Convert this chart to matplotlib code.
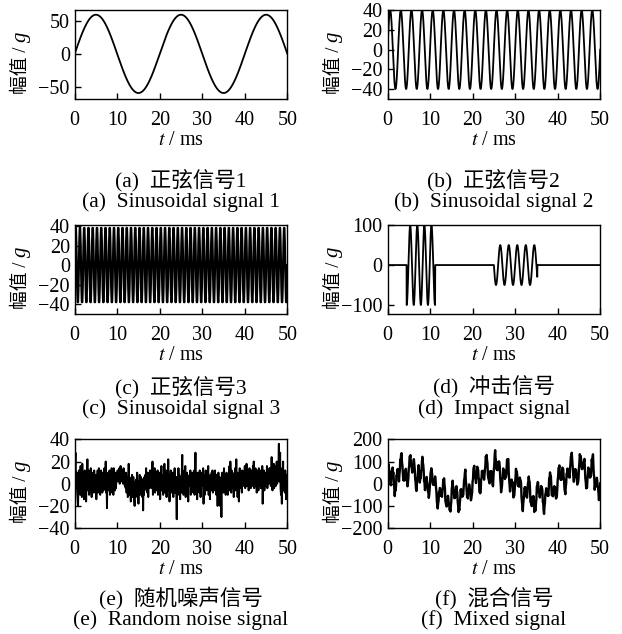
import numpy as np
import matplotlib
matplotlib.use('Agg')
import matplotlib.pyplot as plt

plt.rcParams['font.family'] = ['Liberation Serif', 'Noto Sans CJK SC']
plt.rcParams['mathtext.fontset'] = 'stix'
plt.rcParams['axes.unicode_minus'] = True

# sine components: amplitude (g), frequency (Hz)
sin_amp = [60, 40, 40]
sin_freq = [50, 400, 1000]

# impact bursts: start (ms), end (ms), amplitude (g), frequency (Hz)
burst_start = [4.5, 25.0]
burst_end = [11.2, 35.2]
burst_amp = [-100, -50]
burst_freq = [600, 500]
burst_kind = ['cos', 'sin']

# random noise, one value every 0.1 ms from 0 to 50 ms (one row per ms)
noise_dt = 0.1
noise = [
    2, 14, 28, 6, -4, 10, -8, -14, -20, 4,
    12, -6, 8, -10, 16, -2, 6, -12, 18, 0,
    -8, 10, -14, 4, 12, -4, 8, -16, 6, 2,
    22, -6, 4, 12, -10, 6, 0, -6, 14, -4,
    -12, 6, -4, 10, 2, -8, 12, -6, 4, -2,
    8, -14, 6, -2, 12, -8, 4, 14, -6, 2,
    -10, 6, 12, -2, 4, -8, 10, 0, -6, 8,
    14, -4, 6, 20, -8, 2, -22, 6, -2, 10,
    -6, 4, 12, -10, 2, 8, -4, 14, -8, 0,
    6, -10, 14, -2, 4, -6, 10, -4, 2, 8,
    4, 12, 2, 10, 6, 14, 0, 8, 16, 4,
    10, 2, 12, 6, 0, 14, 4, 10, -2, 8,
    -4, 10, -8, 2, 6, -12, 4, 18, -2, 6,
    -10, 4, -16, 2, -6, 8, -12, 0, 6, -8,
    -14, -20, 2, -6, -12, 4, -2, 10, -8, -4,
    -18, 2, -6, 8, -10, 4, 6, -8, 2, -12,
    4, -24, 2, -10, 6, -4, 8, -2, 14, -6,
    2, -8, 10, -12, 4, 6, -4, 12, -2, 8,
    12, -4, 6, 20, -10, 2, 4, -2, 14, -8,
    6, -4, 10, -6, 2, 12, -10, 4, 8, -2,
    10, -14, 6, 4, 16, -6, 2, 8, -10, 4,
    2, 18, -8, 6, -4, 12, -12, 6, 2, -6,
    22, -2, 8, -16, 4, 2, 12, -8, 6, 4,
    -6, 10, -12, 4, -2, 14, -8, 2, 6, -10,
    -32, 6, -4, -10, 14, -6, 8, 2, -14, 6,
    4, -8, 12, 26, -2, 6, -10, 4, 12, -4,
    16, -12, 2, 8, 10, -8, 4, -16, 6, 2,
    8, -2, 12, -10, 4, 6, -6, 10, 2, -8,
    4, 12, -10, 6, 28, -6, 2, 4, -14, 10,
    -4, 8, 2, -8, 12, 4, -12, 6, 0, 10,
    6, -2, 14, -18, 4, 8, -10, 2, 12, -4,
    -6, 10, -4, 6, 16, -10, 2, 4, -14, 8,
    2, -6, 10, -2, 12, -8, 4, 6, -6, 2,
    12, -4, 6, -10, 8, 2, -20, 4, 10, -6,
    -8, 6, -20, 4, -2, -30, 8, 10, -4, 6,
    -8, 14, -4, 2, 8, -10, 4, 10, -2, 6,
    -10, 8, -2, 4, 16, -6, 20, 4, -8, 12,
    -2, 10, -4, 6, -12, 8, 2, 14, -6, 4,
    22, -4, 6, -12, 10, -6, -16, 4, 14, 2,
    -4, 10, 2, -8, 12, 6, -2, 8, 4, 10,
    16, -4, 10, 2, 18, -2, 8, 4, 12, -6,
    6, 14, 0, 10, -4, 12, 2, 8, -2, 16,
    6, 20, -4, 10, -2, 14, 0, 8, -8, 12,
    2, 10, -6, 14, 4, -2, 12, 6, -4, 8,
    -4, 16, -18, 6, 2, 12, -6, 10, 4, -2,
    10, 2, 16, -4, 8, 12, 0, 6, 14, 4,
    14, -2, 6, 24, 4, -6, 10, 2, 18, -4,
    12, 4, 16, -2, 8, 20, 0, 10, 6, 14,
    36, 2, 10, 28, -4, -10, 12, -18, 14, 4,
    20, -6, 10, 2, -8, 12, 4, -14, 8, 0,
    2,
]

captions_cn = ['(a)  正弦信号1', '(b)  正弦信号2', '(c)  正弦信号3',
               '(d)  冲击信号', '(e)  随机噪声信号', '(f)  混合信号']
captions_en = ['(a)  Sinusoidal signal 1', '(b)  Sinusoidal signal 2',
               '(c)  Sinusoidal signal 3', '(d)  Impact signal',
               '(e)  Random noise signal', '(f)  Mixed signal']
ylims = [(-69, 67), (-50, 40), (-50, 41), (-122, 100), (-40, 40), (-200, 200)]
yticks = [[-50, 0, 50], [-40, -20, 0, 20, 40], [-40, -20, 0, 20, 40],
          [-100, 0, 100], [-40, -20, 0, 20, 40], [-200, -100, 0, 100, 200]]


def sine(t_ms, amp, freq):
    return amp * np.sin(2 * np.pi * freq * t_ms / 1000.0)


t = np.arange(0, 50.0001, 0.02)
s1 = sine(t, sin_amp[0], sin_freq[0])
s2 = sine(t, sin_amp[1], sin_freq[1])
t3 = np.arange(0, 50.0001, 0.1)
s3 = sine(t3, sin_amp[2], sin_freq[2])

impact = np.zeros_like(t)
for a, b, amp, f, kind in zip(burst_start, burst_end, burst_amp, burst_freq, burst_kind):
    m = (t >= a) & (t <= b)
    ph = 2 * np.pi * f * (t[m] - a) / 1000.0
    impact[m] = amp * (np.cos(ph) if kind == 'cos' else np.sin(ph))

# mixed signal = the three sines + noise, on the noise time base
tn = np.arange(len(noise)) * noise_dt
noise = np.array(noise, dtype=float)
mixed = noise.copy()
for amp, f in zip(sin_amp, sin_freq):
    mixed += sine(tn, amp, f)

series = [(t, s1), (t, s2), (t3, s3), (t, impact), (tn, noise), (tn, mixed)]
widths = [1.3, 1.3, 1.6, 1.3, 1.4, 1.7]

W, H = 622, 634
fig = plt.figure(figsize=(W / 100, H / 100), dpi=100)
lefts = [0.120, 0.623]
bottoms = [0.844, 0.505, 0.167]
w, h = 0.342, 0.140
cn_y = [180, 387, 598]
en_y = [202, 409, 620]

for i, (x, y) in enumerate(series):
    col, row = i % 2, i // 2
    ax = fig.add_axes([lefts[col], bottoms[row], w, h])
    ax.plot(x, y, color='black', lw=widths[i])
    ax.set_xlim(0, 50)
    ax.set_ylim(*ylims[i])
    ax.set_xticks(range(0, 51, 10))
    ax.set_yticks(yticks[i])
    ax.tick_params(direction='in', length=4, width=1, labelsize=14.5,
                   top=False, right=False)
    ax.tick_params(axis='x', pad=8.5)
    ax.tick_params(axis='y', pad=3.5)
    for sp in ax.spines.values():
        sp.set_linewidth(1)
    ax.set_xlabel('$t$ / ms', fontsize=14.5, labelpad=1)

    # y label: CJK text followed by an italic g
    yl = ax.text(-0.252, 0.06, '幅值 /', transform=ax.transAxes, rotation=90,
                 ha='center', va='bottom', fontsize=13.5)
    ax.annotate('g', xy=(0.5, 1.0), xycoords=yl, xytext=(0, 3),
                textcoords='offset points', rotation=90, ha='center',
                va='bottom', fontsize=15, fontstyle='italic')

    cx = lefts[col] + w / 2
    fig.text(cx, 1 - cn_y[row] / H, captions_cn[i], ha='center', va='center',
             fontsize=15.5)
    fig.text(cx, 1 - en_y[row] / H, captions_en[i], ha='center', va='center',
             fontsize=15.5)

fig.savefig('out.png', dpi=100)
